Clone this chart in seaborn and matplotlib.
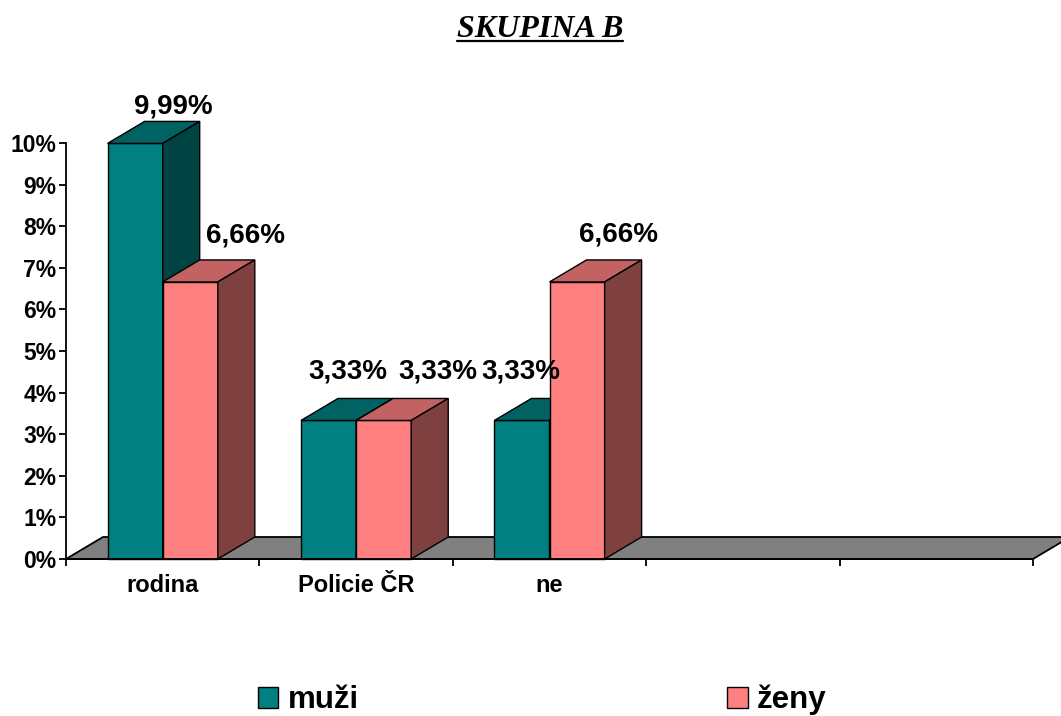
import numpy as np
import pandas as pd
import matplotlib
matplotlib.use('Agg')
import matplotlib.pyplot as plt
from matplotlib.patches import Polygon, Patch
from matplotlib.lines import Line2D
import seaborn as sns

# data
categories = ['rodina', 'Policie ČR', 'ne']
muzi = [9.99, 3.33, 3.33]
zeny = [6.66, 3.33, 6.66]
series = ['muži', 'ženy']
n_slots = 5  # the axis has two more empty category slots
y_ticks = list(range(0, 11))

df = pd.DataFrame({
    'kategorie': categories * 2,
    'hodnota': muzi + zeny,
    'pohlavi': [series[0]] * 3 + [series[1]] * 3,
})

# colours: front, top, side
faces = {
    'muži': ('#008080', '#006262', '#004343'),
    'ženy': ('#ff8080', '#c26262', '#7f4040'),
}
floor_color = '#808080'

# label shifts in pixels (x, up) from the centre of the top face
label_shift = [(20, 8), (1, 20), (-20, 20), (37, 17), (36, 20), (23, 18)]
depth_px = (37, 22)

sns.set_style('white')
plt.rcParams['font.family'] = ['Liberation Sans', 'DejaVu Sans']
plt.rcParams['text.color'] = 'black'
plt.rcParams['xtick.color'] = 'black'
plt.rcParams['ytick.color'] = 'black'
plt.rcParams['axes.labelcolor'] = 'black'

fig = plt.figure(figsize=(10.61, 7.16), dpi=100)
ax = fig.add_axes([66 / 1061, 157 / 716, 967 / 1061, 416 / 716])

sns.barplot(data=df, x='kategorie', y='hodnota', hue='pohlavi',
            palette={k: v[0] for k, v in faces.items()},
            width=0.57, legend=False, saturation=1, ax=ax,
            edgecolor='black', linewidth=1)

ax.set_xlim(-0.5, n_slots - 0.5)
ax.set_ylim(0, 10)

# depth in data units
bb = ax.get_window_extent()
dx = depth_px[0] * (n_slots) / bb.width
dy = depth_px[1] * 10 / bb.height

# floor
x0, x1 = -0.5, n_slots - 0.5
floor = Polygon([(x0, 0), (x1, 0), (x1 + dx, dy), (x0 + dx, dy)], closed=True,
                facecolor=floor_color, edgecolor='black', linewidth=1.3,
                zorder=1, clip_on=False)
ax.add_patch(floor)

values = muzi + zeny
for i, p in enumerate(ax.patches[:len(values)]):
    name = series[i // len(categories)]
    front, top, side = faces[name]
    z = 2 + i // len(categories)
    xl = p.get_x()
    w = p.get_width()
    h = p.get_height()
    p.set_zorder(z)
    p.set_clip_on(False)
    ax.add_patch(Polygon([(xl, h), (xl + w, h), (xl + w + dx, h + dy), (xl + dx, h + dy)],
                         closed=True, facecolor=top, edgecolor='black', linewidth=1,
                         zorder=z, clip_on=False))
    ax.add_patch(Polygon([(xl + w, 0), (xl + w + dx, dy), (xl + w + dx, h + dy), (xl + w, h)],
                         closed=True, facecolor=side, edgecolor='black', linewidth=1,
                         zorder=z, clip_on=False))
    txt = f'{values[i]:.2f}'.replace('.', ',') + '%'
    ax.annotate(txt, xy=(xl + w / 2 + dx / 2, h + dy), xytext=label_shift[i],
                textcoords='offset pixels', ha='center', va='baseline',
                fontsize=20, fontweight='bold', annotation_clip=False, zorder=10)

# axes
sns.despine(ax=ax, top=True, right=True)
ax.spines['left'].set_linewidth(1.3)
ax.spines['bottom'].set_linewidth(1.3)
ax.spines['left'].set_color('black')
ax.spines['bottom'].set_color('black')
ax.spines['bottom'].set_zorder(5)

ax.set_yticks(y_ticks)
ax.set_yticklabels([f'{t}%' for t in y_ticks], fontsize=16.5, fontweight='bold')
ax.set_xticks(np.arange(n_slots + 1) - 0.5)
ax.set_xticklabels([''] * (n_slots + 1))
ax.set_xticks(range(len(categories)), minor=True)
ax.set_xticklabels(categories, minor=True, fontsize=17, fontweight='bold')
ax.tick_params(axis='both', which='major', direction='out', length=5, width=1.3,
               color='black', left=True, bottom=True, pad=2)
ax.tick_params(axis='x', which='minor', length=0, pad=11)
ax.set_xlabel('')
ax.set_ylabel('')
ax.grid(False)

# legend
handles = [Patch(facecolor=faces[s][0], edgecolor='black', linewidth=1) for s in series]
fig.legend(handles, series, loc='center', bbox_to_anchor=(0.511, 0.022), ncol=2,
           frameon=False, prop={'family': 'Liberation Sans', 'weight': 'bold', 'size': 22.5},
           handlelength=0.65, handleheight=0.65, handletextpad=0.3, columnspacing=11.8)

# title with underline
title = fig.text(0.509, 1 - 37 / 716, 'SKUPINA B', ha='center', va='baseline',
                 fontfamily='Liberation Serif', fontweight='bold', fontstyle='italic',
                 fontsize=23)
fig.canvas.draw()
tb = title.get_window_extent()
uy = (716 - 41) / 716
fig.add_artist(Line2D([tb.x0 / 1061, tb.x1 / 1061], [uy, uy], transform=fig.transFigure,
                      color='black', linewidth=1.6))

fig.savefig('out.png', dpi=100)
